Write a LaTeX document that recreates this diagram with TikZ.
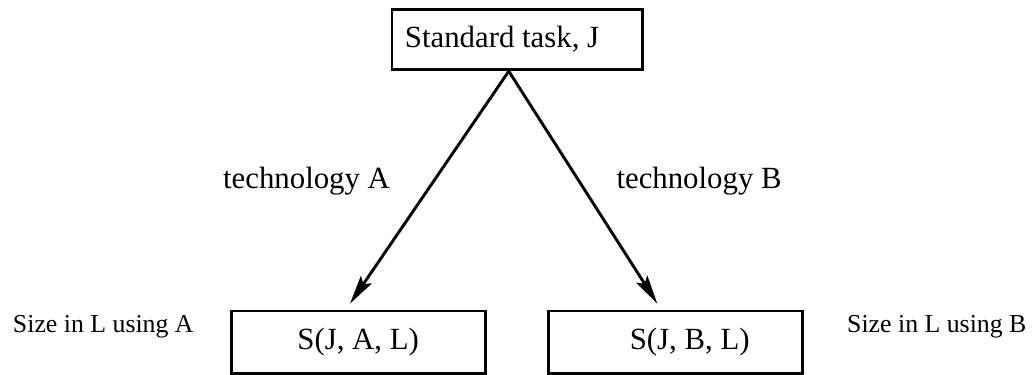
\documentclass[tikz,border=0pt]{standalone}
\usepackage{fontspec}
\setmainfont{Liberation Serif}
\usetikzlibrary{arrows.meta,positioning}

\newcommand{\mainsize}{\fontsize{11.7pt}{14pt}\selectfont}
\newcommand{\sidesize}{\fontsize{9.8pt}{12pt}\selectfont}

\tikzset{
    taskbox/.style={draw,line width=1.05pt,minimum width=3.34cm,minimum height=0.81cm},
    sizebox/.style={draw,line width=1.05pt,minimum width=3.39cm,minimum height=0.83cm},
    sidenote/.style={font=\sidesize}
}

\begin{document}
\begin{tikzpicture}[level distance=4.04cm,sibling distance=4.24cm,font=\mainsize,
    edge from parent/.style={draw,line width=1.1pt,-{Stealth[length=11pt,width=5pt,inset=2pt]}},
    edge from parent path={([xshift=-0.11cm]\tikzparentnode.south) -- ([xshift=-0.11cm,yshift=0.08cm]\tikzchildnode.north)}]
    \useasboundingbox (0,0) rectangle (13.83,-5.006);
    \node[taskbox] (task) at (6.902,-0.527) {Standard task, J\hspace*{0.4cm}}
        child{node[sizebox] (sja) {S(J, A, L)}
            edge from parent node[left=0.39cm,yshift=0.088cm]{technology A}
        }
        child[edge from parent path={([xshift=-0.11cm]\tikzparentnode.south) -- ([xshift=-0.247cm,yshift=0.08cm]\tikzchildnode.north)}]{node[sizebox] (sjb) {\hspace*{0.37cm}S(J, B, L)}
            edge from parent node[right=0.31cm,yshift=0.088cm]{technology B}
        }
    ;
    % what each size means
    \node[sidenote,left=0.36cm of sja,yshift=0.2cm] (usea) {Size in L using A};
    \node[sidenote,right=0.45cm of sjb,yshift=0.21cm] (useb) {Size in L using B};
\end{tikzpicture}
\end{document}
